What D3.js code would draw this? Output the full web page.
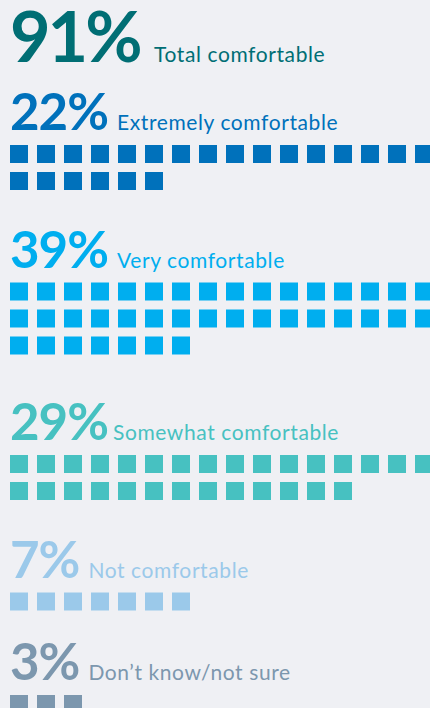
<!DOCTYPE html>
<html>
<head>
<meta charset="utf-8">
<script src="https://cdn.jsdelivr.net/npm/d3@7"></script>
<style>
  html, body { margin: 0; padding: 0; background: #eff0f4; overflow: hidden; }
  svg { display: block; }
  text { font-family: Lato, "Open Sans", sans-serif; }
</style>
</head>
<body>
<div id="chart"></div>
<script>
const totalValue = 91;
const totalLabel = "Total comfortable";
const totalColor = "#006e74";

const categories = ["Extremely comfortable", "Very comfortable", "Somewhat comfortable", "Not comfortable", "Don\u2019t know/not sure"];
const values = [22, 39, 29, 7, 3];
const colors = ["#0071bb", "#00aeef", "#47c1c1", "#9bc9ea", "#7c97ae"];

const width = 430;
const height = 708;
const perRow = 16;
const pitch = 27;
const size = 18;

const svg = d3.select("#chart")
    .append("svg")
    .attr("width", width)
    .attr("height", height);

const x = d3.scaleLinear().domain([0, perRow]).range([10, 10 + perRow * pitch]);

// headline
const head = svg.append("g").attr("transform", "translate(0,62)");
head.append("text")
    .attr("x", 10)
    .attr("fill", totalColor)
    .attr("font-size", 70)
    .attr("font-weight", 700)
    .attr("letter-spacing", -3)
    .text(totalValue + "%");
head.append("text")
    .attr("x", 154)
    .attr("fill", totalColor)
    .attr("font-size", 21)
    .attr("letter-spacing", 0.6)
    .text(totalLabel);

// baselines for each group, stacked by number of rows
const rows = values.map(v => Math.ceil(v / perRow));
const baselines = [];
let yb = 130;
rows.forEach(r => {
    baselines.push(yb);
    yb += 67.5 + r * 35;
});

const data = categories.map((c, i) => ({ name: c, value: values[i], color: colors[i], y: baselines[i] }));

const group = svg.selectAll(".group")
    .data(data)
    .join("g")
    .attr("class", "group")
    .attr("transform", d => `translate(0,${d.y})`);

group.append("text")
    .attr("class", "pct")
    .attr("x", 10)
    .attr("fill", d => d.color)
    .attr("font-size", 51)
    .attr("font-weight", 700)
    .attr("letter-spacing", -1)
    .text(d => d.value + "%");

group.append("text")
    .attr("class", "lbl")
    .attr("fill", d => d.color)
    .attr("font-size", 21)
    .attr("letter-spacing", 0.6)
    .text(d => d.name);

// put each label just after its percentage
group.each(function(d) {
    const g = d3.select(this);
    const w = g.select(".pct").node().getComputedTextLength();
    g.select(".lbl").attr("x", 10 + w + (d.value === 29 ? 5 : 9));
});

group.selectAll("rect")
    .data(d => d3.range(d.value).map(i => ({ i, color: d.color })))
    .join("rect")
    .attr("x", d => x(d.i % perRow))
    .attr("y", d => 15 + Math.floor(d.i / perRow) * pitch)
    .attr("width", size)
    .attr("height", size)
    .attr("fill", d => d.color);
</script>
</body>
</html>
